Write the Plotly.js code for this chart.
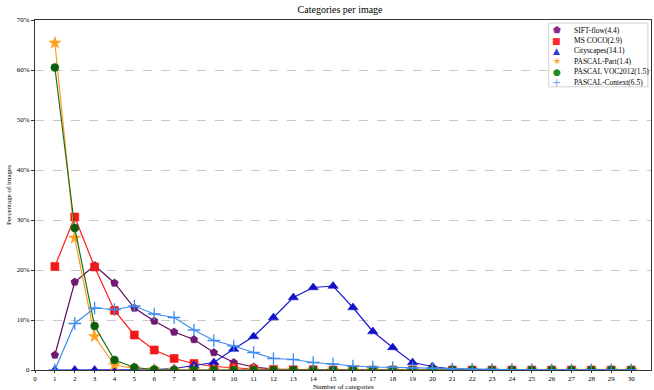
<!DOCTYPE html>
<html><head><meta charset="utf-8">
<script src="https://cdn.plot.ly/plotly-3.0.1.min.js"></script>
<style>html,body{margin:0;padding:0;background:#fff}#c{width:654px;height:390px}</style>
</head><body><div id="c"></div>
<script>
const categories = Array.from({length:30},(_, i)=>i+1);
const siftFlow   = [3.0,17.6,20.9,17.4,12.4,9.8,7.6,6.1,3.5,1.5,0.6,0.2,0.1,0.05,0,0,0,0,0,0,0,0,0,0,0,0,0,0,0,0];
const msCoco     = [20.7,30.6,20.6,11.9,7.0,4.0,2.3,1.3,0.7,0.4,0.2,0.1,0.05,0.05,0,0,0,0,0,0,0,0,0,0,0,0,0,0,0,0];
const cityscapes = [0,0,0,0,0,0.1,0.3,0.9,1.5,4.2,6.7,10.5,14.5,16.5,16.8,12.5,7.7,4.5,1.5,0.7,0.2,0.05,0,0,0,0,0,0,0,0];
const pascalPart = [65.4,26.4,6.7,1.0,0.3,0.1,0,0,0,0,0,0,0,0,0,0,0,0,0,0,0,0,0,0,0,0,0,0,0,0];
const pascalVoc  = [60.5,28.4,8.8,2.0,0.5,0.1,0,0,0,0,0,0,0,0,0,0,0,0,0,0,0,0,0,0,0,0,0,0,0,0];
const pascalCtx  = [0,9.3,12.4,12.1,12.8,11.2,10.5,8.0,5.9,4.8,3.5,2.3,2.1,1.5,1.2,0.8,0.6,0.5,0.4,0.3,0.2,0.1,0.1,0.05,0.05,0,0,0,0,0];
const names = ["SIFT-flow(4.4)","MS COCO(2.9)","Cityscapes(14.1)","PASCAL-Part(1.4)","PASCAL VOC2012(1.5)","PASCAL-Context(6.5)"];
const xTicks = Array.from({length:31},(_, i)=>i);
const yTicks = [0,10,20,30,40,50,60,70];
const yTickText = ['0','10%','20%','30%','40%','50%','60%','70%'];

const styles = [
  {line:'#5a0a5a', fill:'#741874', sym:'pentagon', size:8, glyph:'⬟', lg:'#8a2a8a'},
  {line:'#ff1a1a', fill:'#f01818', sym:'square', size:8, glyph:'■', lg:'#ff2a2a'},
  {line:'#1a1ad0', fill:'#1010c8', sym:'triangle-up', size:9, glyph:'▲', lg:'#2a3ae0'},
  {line:'#ff9a1a', fill:'#ffa020', sym:'star', size:9, glyph:'★', lg:'#ffa830'},
  {line:'#1a6e1a', fill:'#0e5e0e', sym:'circle', size:8, glyph:'●', lg:'#228a22'},
  {line:'#3c8cf0', fill:'#3c8cf0', sym:'cross-thin', size:9, glyph:'+', lg:'#6aa2f2'}
];
const series = [siftFlow, msCoco, cityscapes, pascalPart, pascalVoc, pascalCtx];
const traces = series.map((ys,i)=>({
  x: categories, y: ys, name: names[i], type:'scatter', mode:'lines+markers',
  line:{color:styles[i].line, width:1.2},
  marker:{symbol:styles[i].sym, size:styles[i].size, color:styles[i].fill,
          line:{color:styles[i].sym==='cross-thin'?styles[i].fill:styles[i].line, width:styles[i].sym==='cross-thin'?1.3:0.6}}
}));

// compact legend built from annotations (paper coordinates)
const legTop = 0.971, legStep = 0.0297;
const annotations = [];
names.forEach((n,i)=>{
  const y = legTop - i*legStep;
  annotations.push({xref:'paper', yref:'paper', x:0.847, y:y, text:styles[i].glyph, showarrow:false,
    xanchor:'center', yanchor:'middle', font:{size:i===5?11:9, color:styles[i].lg, family:'DejaVu Sans'}});
  annotations.push({xref:'paper', yref:'paper', x:0.871, y:y, text:n, showarrow:false,
    xanchor:'left', yanchor:'middle', font:{size:7.5, color:'#000'}});
});
annotations.push({xref:'paper', yref:'paper', x:0.5, y:-0.0486, text:'Number of categories', showarrow:false,
  xanchor:'center', yanchor:'middle', font:{size:7, color:'#000'}});

const layout = {
  width:654, height:390,
  margin:{l:35, r:3, t:20, b:20},
  paper_bgcolor:'#fff', plot_bgcolor:'#fff',
  font:{family:'"Liberation Serif", "DejaVu Serif", serif', size:7, color:'#000'},
  title:{text:'Categories per image', font:{size:10}, x:0.52, xanchor:'center', y:0.985, yanchor:'top'},
  showlegend:false,
  annotations: annotations,
  shapes:[{type:'rect', xref:'paper', yref:'paper', x0:0.834, x1:0.995, y0:0.809, y1:0.991,
           line:{color:'#d0d0d0', width:1}, fillcolor:'rgba(255,255,255,0.9)', layer:'above'}],
  xaxis:{range:[0,31], tickmode:'array', tickvals:xTicks, ticktext:xTicks.map(String),
         showgrid:false, zeroline:false, showline:true, linecolor:'#333', linewidth:1, mirror:true,
         ticks:'outside', ticklen:2, tickcolor:'#333', tickfont:{size:7}, automargin:false},
  yaxis:{range:[0,70], tickmode:'array', tickvals:yTicks, ticktext:yTickText,
         showgrid:true, gridcolor:'#c8c8c8', griddash:'dash', gridwidth:1, zeroline:false,
         showline:true, linecolor:'#333', linewidth:1, mirror:true, automargin:false,
         ticks:'outside', ticklen:3, tickcolor:'#333', tickfont:{size:7},
         title:{text:'Percentage of images', font:{size:7}, standoff:4}}
};
Plotly.newPlot('c', traces, layout, {displayModeBar:false, staticPlot:true});
</script></body></html>
